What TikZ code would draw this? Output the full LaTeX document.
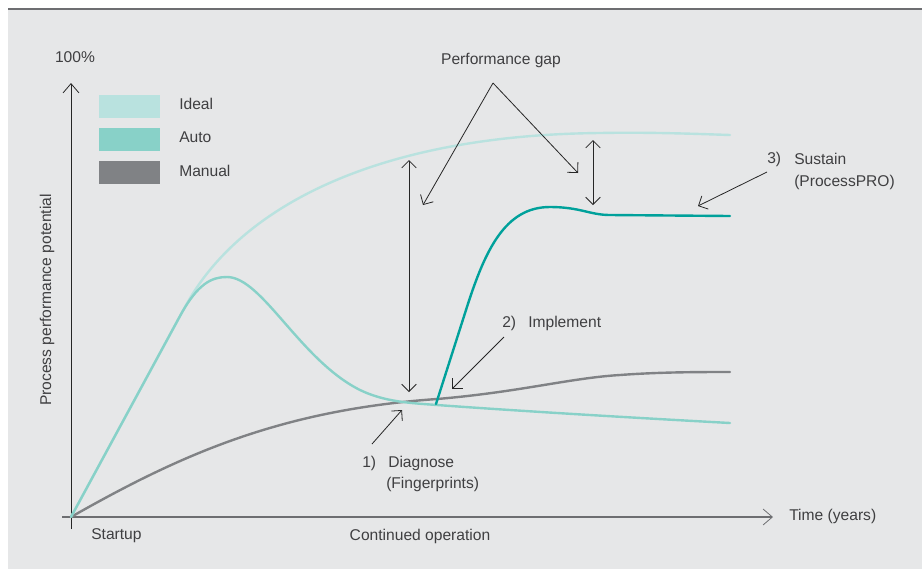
\documentclass[tikz,border=0pt]{standalone}
\usepackage{fontspec}
\setmainfont{Liberation Sans}
\usetikzlibrary{arrows.meta}

\definecolor{panelgray}{HTML}{E6E7E8}
\definecolor{bordergray}{HTML}{6D6E71}
\definecolor{textgray}{HTML}{3F3F41}
\definecolor{idealc}{HTML}{B9E2DF}
\definecolor{autoc}{HTML}{88D1C8}
\definecolor{manualc}{HTML}{808285}
\definecolor{implc}{HTML}{00A19B}

\tikzset{
 lbl/.style={text=textgray,font=\fontsize{11.7}{14}\selectfont,inner sep=0pt},
 keybox/.style={minimum width=45.75pt,minimum height=17.25pt,inner sep=0pt},
 pointer/.style={draw=black!85,line width=0.6pt,-{Straight Barb[length=5.5pt,width=11pt]}},
 twoway/.style={draw=black!85,line width=0.6pt,{Straight Barb[length=5.5pt,width=11pt]}-{Straight Barb[length=5.5pt,width=11pt]}},
 curve/.style={line width=1.8pt,line cap=round,line join=round}
}

\begin{document}
\begin{tikzpicture}[x=0.75pt,y=-0.75pt]
 \useasboundingbox (0,0) rectangle (922,569);
 \fill[white] (0,0) rectangle (922,569);
 \fill[panelgray] (8,9) rectangle (922,569);
 \draw[bordergray,line width=1.5pt] (8,9) -- (922,9);

 % axes
 \coordinate (ybot) at (71,529);
 \coordinate (ytop) at (71,83);
 \coordinate (xleft) at (62,517);
 \coordinate (xright) at (773,517);
 \draw[black!85,line width=0.6pt,-{Straight Barb[length=7pt,width=12pt]}] (ybot) -- (ytop);
 \draw[manualc!85!black,line width=1.3pt,-{Straight Barb[length=7pt,width=12pt,line width=0.6pt]}] (xleft) -- (xright);

 % curves
 \draw[curve,idealc] (71,517) -- (185,307) .. controls (240,205) and (380,135) .. (600,133) .. controls (650,132) and (700,134) .. (730,135);
 \draw[curve,manualc] (71,517) .. controls (180,455) and (280,410) .. (437,399) .. controls (520,392) and (570,378) .. (620,375) .. controls (660,372) and (700,372) .. (730,372);
 \draw[curve,autoc] (71,517) -- (180,316) .. controls (198,283) and (212,277) .. (227,277) .. controls (262,277) and (300,360) .. (360,390) .. controls (385,402) and (410,403) .. (437,405) .. controls (520,411) and (620,417) .. (730,423);
 \draw[curve,implc] (436,404) -- (466,310) .. controls (485,250) and (505,207) .. (550,207) .. controls (580,207) and (590,215) .. (610,215) -- (730,216);

 % legend
 \node[keybox,fill=idealc] (keyideal) at (129.5,106.5) {};
 \node[keybox,fill=autoc] (keyauto) at (129.5,139.5) {};
 \node[keybox,fill=manualc] (keymanual) at (129.5,172.5) {};
 \node[lbl,anchor=west] (txtideal) at (179,104) {Ideal};
 \node[lbl,anchor=west] (txtauto) at (179,137) {Auto};
 \node[lbl,anchor=west] (txtmanual) at (179,171) {Manual};

 % axis labels
 \node[lbl] (hundred) at (75,57) {100\%};
 \node[lbl,rotate=90] (ylabel) at (47,300) {Process performance potential};
 \node[lbl,anchor=west] (timelbl) at (789,516) {Time (years)};
 \node[lbl,anchor=west] (startup) at (91,536) {Startup};
 \node[lbl] (contop) at (420,536) {Continued operation};

 % gaps
 \coordinate (gapatop) at (409,160);
 \coordinate (gapabot) at (409,392);
 \coordinate (gapbtop) at (593,140);
 \coordinate (gapbbot) at (593,205);
 \draw[twoway] (gapatop) -- (gapabot);
 \draw[twoway] (gapbtop) -- (gapbbot);

 \node[lbl] (gaplbl) at (501,60) {Performance gap};
 \coordinate (gapfork) at (493,83);
 \coordinate (gapleft) at (423,205);
 \coordinate (gapright) at (578,173);
 \draw[pointer] (gapfork) -- (gapleft);
 \draw[pointer] (gapfork) -- (gapright);

 % steps
 \node[lbl,anchor=west] (numthree) at (767,159) {3)};
 \node[lbl,anchor=west] (sustain) at (794,159) {Sustain};
 \node[lbl,anchor=west] (procpro) at (794,182) {(ProcessPRO)};
 \coordinate (sustainfrom) at (767,172);
 \coordinate (sustainto) at (698,206);
 \draw[pointer] (sustainfrom) -- (sustainto);

 \node[lbl,anchor=west] (numtwo) at (502,323) {2)};
 \node[lbl,anchor=west] (implement) at (528,323) {Implement};
 \coordinate (implfrom) at (504,337);
 \coordinate (implto) at (452,389);
 \draw[pointer] (implfrom) -- (implto);

 \node[lbl,anchor=west] (numone) at (362,463) {1)};
 \node[lbl,anchor=west] (diagnose) at (388,463) {Diagnose};
 \node[lbl,anchor=west] (fingerp) at (386,484) {(Fingerprints)};
 \coordinate (diagfrom) at (372,444);
 \coordinate (diagto) at (402,410);
 \draw[pointer] (diagfrom) -- (diagto);
\end{tikzpicture}
\end{document}
